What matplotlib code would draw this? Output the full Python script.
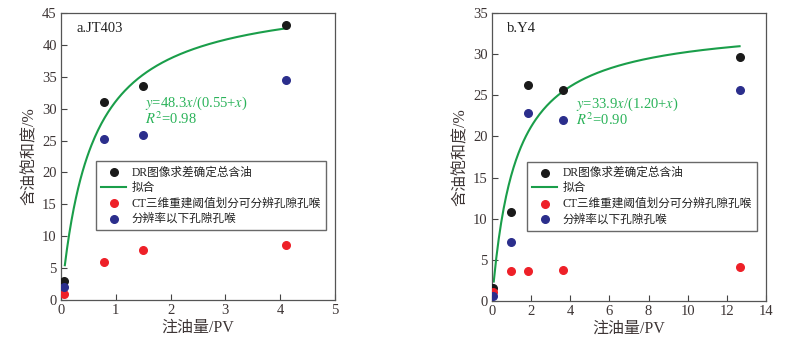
import matplotlib
matplotlib.use("Agg")
import matplotlib.pyplot as plt
import numpy as np

plt.rcParams['font.family'] = ['Liberation Serif', 'Noto Sans CJK SC']
plt.rcParams['mathtext.fontset'] = 'stix'

# panel a: JT403
a_x = [0.05, 0.78, 1.50, 4.10]
a_dr = [3.0, 31.1, 33.5, 43.1]
a_ct = [0.9, 6.0, 7.8, 8.6]
a_low = [2.0, 25.2, 25.8, 34.5]
a_fit = (48.3, 0.55)   # y = a*x/(b+x)
a_fit_range = (0.07, 4.1)

# panel b: Y4
b_x = [0.05, 0.95, 1.85, 3.65, 12.65]
b_dr = [1.6, 10.8, 26.3, 25.7, 29.7]
b_ct = [1.1, 3.7, 3.6, 3.8, 4.1]
b_low = [0.6, 7.2, 22.8, 22.0, 25.7]
b_fit = (33.9, 1.20)
b_fit_range = (0.09, 12.65)

labels = ["DR图像求差确定总含油", "拟合", "CT三维重建阈值划分可分辨孔隙孔喉", "分辨率以下孔隙孔喉"]

txt = '#3d3535'
green = '#1a9e4a'
eqc = '#2bb35a'

fig = plt.figure(figsize=(7.9, 3.49), dpi=100)
axa = fig.add_axes([61/790, 1-300/349, 274/790, 287/349])
axb = fig.add_axes([492/790, 1-301/349, 274/790, 288/349])


def panel(ax, x, dr, ct, low, fit, rng, xlim, ylim, xt, yt, tag, eq, r2):
    xx = np.linspace(rng[0], rng[1], 200)
    yy = fit[0] * xx / (fit[1] + xx)
    h1 = ax.scatter(x, dr, s=30, color='#1a1a1a', zorder=3)
    h2, = ax.plot(xx, yy, color=green, lw=1.5, zorder=2)
    h3 = ax.scatter(x, ct, s=30, color='#ee2028', zorder=3)
    h4 = ax.scatter(x, low, s=30, color='#2b2e8c', zorder=3)
    ax.set_xlim(xlim)
    ax.set_ylim(ylim)
    ax.set_xticks(xt)
    ax.set_yticks(yt)
    ax.tick_params(direction='in', length=4, width=0.8, colors='#444444',
                   labelcolor=txt, labelsize=10.5, pad=3)
    for s in ax.spines.values():
        s.set_color('#555555')
        s.set_linewidth(0.9)
    ax.set_xlabel("注油量/PV", fontsize=11.5, color=txt, labelpad=2)
    ax.set_ylabel("含油饱和度/%", fontsize=11.5, color=txt, labelpad=3)
    ax.text(0.055, 0.969, tag, transform=ax.transAxes, fontsize=10.5,
            color='#222222', va='top')
    ax.text(0.305, 0.672, eq, transform=ax.transAxes, fontsize=10.5, color=eqc)
    ax.text(0.305, 0.612, r2, transform=ax.transAxes, fontsize=10.5, color=eqc)
    leg = ax.legend([h1, h2, h3, h4], labels, loc='upper left',
                    bbox_to_anchor=(0.128, 0.484), borderaxespad=0,
                    fontsize=8.4, frameon=True, fancybox=False,
                    handlelength=2.1, handletextpad=0.5, borderpad=0.45,
                    labelspacing=0.3, scatterpoints=1)
    leg.get_frame().set_edgecolor('#444444')
    leg.get_frame().set_linewidth(1.0)
    for t in leg.get_texts():
        t.set_color('#222222')


panel(axa, a_x, a_dr, a_ct, a_low, a_fit, a_fit_range, (0, 5), (0, 45),
      range(0, 6), range(0, 46, 5), "a.JT403",
      r"$y$=48.3$x$/(0.55+$x$)", r"$R^2$=0.98")
panel(axb, b_x, b_dr, b_ct, b_low, b_fit, b_fit_range, (0, 14), (0, 35),
      range(0, 15, 2), range(0, 36, 5), "b.Y4",
      r"$y$=33.9$x$/(1.20+$x$)", r"$R^2$=0.90")

fig.savefig("out.png", dpi=100)
